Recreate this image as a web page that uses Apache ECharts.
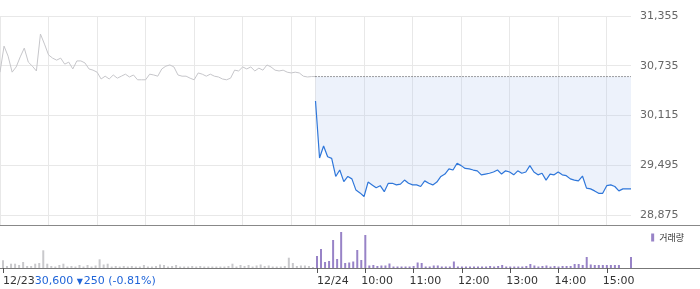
<!DOCTYPE html>
<html><head><meta charset="utf-8">
<script src="https://cdn.jsdelivr.net/npm/echarts@6/dist/echarts.min.js"></script>
<style>html,body{margin:0;padding:0;background:#fff}#c{width:700px;height:289px}</style>
</head><body><div id="c"></div>
<script>
// ---- data ----
const dates = ['12/23', '12/24'];
const hourLabels = ['10:00', '11:00', '12:00', '13:00', '14:00', '15:00'];
const priceTicks = [28875, 29495, 30115, 30735, 31355];
const prevClose = 30600;
const change = -250;
const changePct = -0.81;
const stepMin = 5;        // minutes between samples
const sessionMin = 390;   // 09:00 - 15:30

const day1Price = [30655,30980,30855,30655,30720,30845,30955,30780,30730,30670,
  31130,31005,30870,30830,30805,30830,30755,30780,30695,30795,
  30795,30770,30695,30680,30655,30570,30605,30570,30620,30580,
  30605,30630,30595,30620,30560,30560,30560,30630,30620,30605,
  30695,30730,30745,30720,30620,30605,30605,30580,30560,30645,
  30630,30605,30630,30605,30595,30570,30560,30580,30680,30670,
  30720,30695,30720,30670,30705,30680,30745,30720,30680,30670,
  30680,30655,30645,30655,30645,30605,30595,30600,30600];

const day2Price = [30295,29585,29735,29600,29580,29355,29435,29290,29355,29325,
  29185,29150,29105,29285,29250,29215,29240,29165,29270,29270,
  29250,29260,29310,29270,29250,29250,29230,29300,29270,29250,
  29285,29355,29385,29450,29435,29520,29490,29455,29450,29435,
  29425,29375,29385,29395,29410,29435,29385,29425,29410,29375,
  29425,29395,29410,29490,29410,29375,29395,29310,29385,29375,
  29410,29375,29365,29325,29310,29300,29360,29210,29200,29175,
  29145,29145,29240,29250,29230,29175,29200,29200,29200];

const day1Vol = [770,200,430,430,300,600,200,200,430,500,
  1770,430,200,150,300,430,150,200,150,300,
  150,300,150,250,870,350,430,150,200,150,
  200,150,200,150,150,300,150,150,200,350,
  300,150,200,300,150,150,150,200,150,200,
  150,150,150,150,150,150,200,430,150,300,
  200,300,150,250,350,200,250,150,150,150,
  200,1030,500,200,250,250,200,100,100];

const day2Vol = [1200,1900,600,700,2800,900,3600,500,550,650,
  1800,800,3300,250,300,200,250,250,450,150,
  150,150,150,150,200,550,500,150,150,250,
  250,150,150,150,650,150,150,150,150,150,
  150,150,150,200,150,200,300,150,150,150,
  150,150,200,400,250,150,200,250,150,200,
  150,200,200,200,400,400,300,1100,350,300,
  300,300,300,300,300,300,0,0,1100];

// ---- build ----
const d1 = day1Price.map((v, i) => [i * stepMin, v]);
const d2 = day2Price.map((v, i) => [sessionMin + i * stepMin, v]);
const vol = day1Vol.map((v, i) => ({ value: [i * stepMin, v], itemStyle: { color: '#c9c9cc' } }))
  .concat(day2Vol.map((v, i) => ({ value: [sessionMin + i * stepMin, v] })));

const gridLines = [];
const bottomTicks = [];
const labelPos = [];
const labelText = {};
const labelLead = 5;
dates.forEach((d, di) => {
  const base = di * sessionMin;
  gridLines.push(base);
  bottomTicks.push(base);
  labelPos.push(base);
  labelText[base] = di;
  hourLabels.forEach((h, hi) => {
    const t = base + (hi + 1) * 60;
    gridLines.push(t);
    if (di === 1) {
      bottomTicks.push(t);
      labelPos.push(t - labelLead);
      labelText[t - labelLead] = 'h' + hi;
    }
  });
});
const fmt = v => v.toLocaleString('en-US');
const changeStr = fmt(prevClose) + ' ';
const changeStr2 = Math.abs(change) + ' (' + changePct.toFixed(2) + '%)';

const FONT = "'DejaVu Sans', 'Noto Sans CJK KR', sans-serif";
const chart = echarts.init(document.getElementById('c'), null, { renderer: 'canvas' });
chart.setOption({
  animation: false,
  textStyle: { fontFamily: FONT },
  legend: {
    data: ['거래량'], right: 16, top: 233, padding: 0,
    itemWidth: 3, itemHeight: 8, icon: 'rect', itemGap: 0,
    textStyle: { fontSize: 9, color: '#333', fontFamily: "'Noto Sans CJK KR', sans-serif" }
  },
  grid: [
    { left: 0, right: 69, top: 16, height: 209 },
    { left: 0, right: 69, top: 226, height: 42 }
  ],
  xAxis: [
    { type: 'value', gridIndex: 0, min: 0, max: sessionMin * 2,
      axisLine: { show: false },
      axisTick: { show: false, customValues: gridLines },
      axisLabel: { show: false },
      splitLine: { show: true, lineStyle: { color: '#e8e8e8', width: 1 } } },
    { type: 'value', gridIndex: 1, min: 0, max: sessionMin * 2,
      axisLine: { show: false },
      axisTick: { show: true, customValues: bottomTicks, length: 5, lineStyle: { color: '#555' } },
      axisLabel: { show: false },
      splitLine: { show: false } },
    { type: 'value', gridIndex: 1, min: 0, max: sessionMin * 2, position: 'bottom',
      axisLine: { show: false }, axisTick: { show: false }, splitLine: { show: false },
      axisLabel: { show: true, customValues: labelPos, align: 'left', margin: 8,
        fontSize: 11, color: '#333', fontFamily: FONT,
        formatter: v => {
          const k = labelText[v];
          if (k === 0) return dates[0] + '{b|' + changeStr + '}{t|▼}{b|' + changeStr2 + '}';
          if (typeof k === 'number') return dates[k];
          return hourLabels[+k.slice(1)];
        },
        rich: {
          b: { fontSize: 11, color: '#1f64d8', fontFamily: FONT },
          t: { fontSize: 8, color: '#1f64d8', fontFamily: FONT, padding: [1, 1, 0, 0] }
        } } }
  ],
  yAxis: [
    { type: 'value', gridIndex: 0, position: 'right', min: 28750, max: 31355,
      axisLine: { show: false },
      axisTick: { show: false, customValues: priceTicks },
      axisLabel: { customValues: priceTicks, formatter: v => fmt(v), color: '#666', fontSize: 11, margin: 9, fontFamily: FONT },
      splitLine: { show: true, lineStyle: { color: '#e8e8e8', width: 1 } } },
    { type: 'value', gridIndex: 1, min: 0, max: 4200, show: false, splitLine: { show: false } }
  ],
  series: [
    { type: 'line', name: '12/23', xAxisIndex: 0, yAxisIndex: 0, data: d1, showSymbol: false,
      lineStyle: { color: '#c6c6ca', width: 1 }, itemStyle: { color: '#c6c6ca' } },
    { type: 'line', name: '12/24', xAxisIndex: 0, yAxisIndex: 0, data: d2, showSymbol: false,
      lineStyle: { color: '#2f77da', width: 1.2 }, itemStyle: { color: '#2f77da' },
      areaStyle: { origin: prevClose, color: 'rgba(172,195,235,0.3)' } },
    { type: 'line', name: 'prev', xAxisIndex: 0, yAxisIndex: 0,
      data: [[sessionMin, prevClose], [sessionMin * 2, prevClose]], showSymbol: false,
      lineStyle: { color: '#444', width: 1, type: [1, 2] } },
    { type: 'bar', name: '거래량', xAxisIndex: 1, yAxisIndex: 1, data: vol, barWidth: 2,
      itemStyle: { color: '#9883c7' } }
  ],
  graphic: [
    { type: 'line', shape: { x1: 0, y1: 225.5, x2: 700, y2: 225.5 }, style: { stroke: '#888', lineWidth: 1 }, silent: true },
    { type: 'line', shape: { x1: 0, y1: 268.5, x2: 700, y2: 268.5 }, style: { stroke: '#777', lineWidth: 1 }, silent: true }
  ]
});
</script></body></html>
